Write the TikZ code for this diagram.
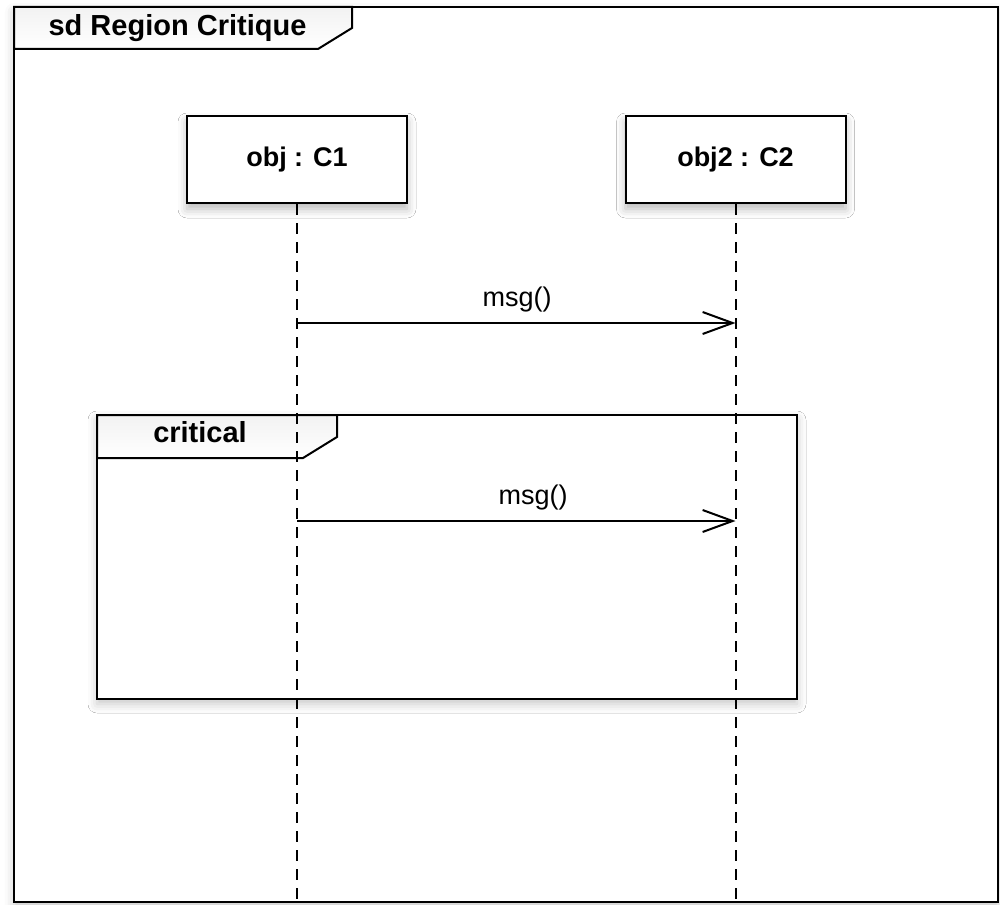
\documentclass[tikz,border=0pt]{standalone}
\usepackage{fontspec}
\setmainfont{Liberation Sans}
\usetikzlibrary{arrows.meta,shadows.blur}
\tikzset{
  frameline/.style={draw=black,line width=2pt,line join=miter},
  frameshadow/.style={blur shadow={shadow xshift=0pt,shadow yshift=-5pt,shadow blur radius=9pt,shadow opacity=22}},
  tagfill/.style={top color=gray!10,bottom color=white,draw=black,line width=2pt},
  objbox/.style={draw=black,line width=2pt,fill=white,minimum width=220pt,minimum height=87pt,
    font=\fontsize{27}{30}\selectfont\bfseries,inner sep=0pt,
    blur shadow={shadow xshift=0pt,shadow yshift=-6pt,shadow blur radius=9pt,shadow opacity=28}},
  lifeline/.style={draw=black,line width=2pt,dash pattern=on 11pt off 8pt},
  msgline/.style={draw=black,line width=2pt,-{Straight Barb[length=30pt,width=22pt,line width=2pt]}},
  msglabel/.style={font=\fontsize{27}{30}\selectfont,inner sep=0pt,anchor=center},
  tagtitle/.style={font=\fontsize{29}{32}\selectfont\bfseries,inner sep=0pt,anchor=center}
}
\begin{document}
\begin{tikzpicture}[x=1pt,y=-1pt]
\useasboundingbox (0,0) rectangle (1000,904);
% outer frame
\path[fill=white,frameshadow] (14,7) rectangle (998,902);
\draw[frameline] (14,7) rectangle (998,902);
\path[tagfill] (14,7) -- (352,7) -- (352,28) -- (318,49) -- (14,49) -- cycle;
\node[tagtitle] (title) at (177.5,28) {sd Region Critique};
% objects
\node[objbox] (o1) at (297,159.5) {obj : C1};
\node[objbox] (o2) at (735.5,159.5) {obj2 : C2};
% critical fragment
\path[fill=white,frameshadow] (97,415) rectangle (797,699);
\draw[frameline] (97,415) rectangle (797,699);
\path[tagfill] (97,415) -- (337,415) -- (337,437) -- (303,458) -- (97,458) -- cycle;
\node[tagtitle] (crit) at (200,432) {critical};
% lifelines
\coordinate (e1) at (297,902);
\coordinate (e2) at (735.5,902);
\draw[lifeline] (o1.south) -- (e1);
\draw[lifeline] (o2.south) -- (e2);
% messages
\coordinate (a1) at (297,323);
\coordinate (b1) at (735.5,323);
\coordinate (a2) at (297,521);
\coordinate (b2) at (735.5,521);
\draw[msgline] (a1) -- (b1);
\draw[msgline] (a2) -- (b2);
\node[msglabel] (l1) at (517,300) {msg()};
\node[msglabel] (l2) at (533,498) {msg()};
\end{tikzpicture}
\end{document}
